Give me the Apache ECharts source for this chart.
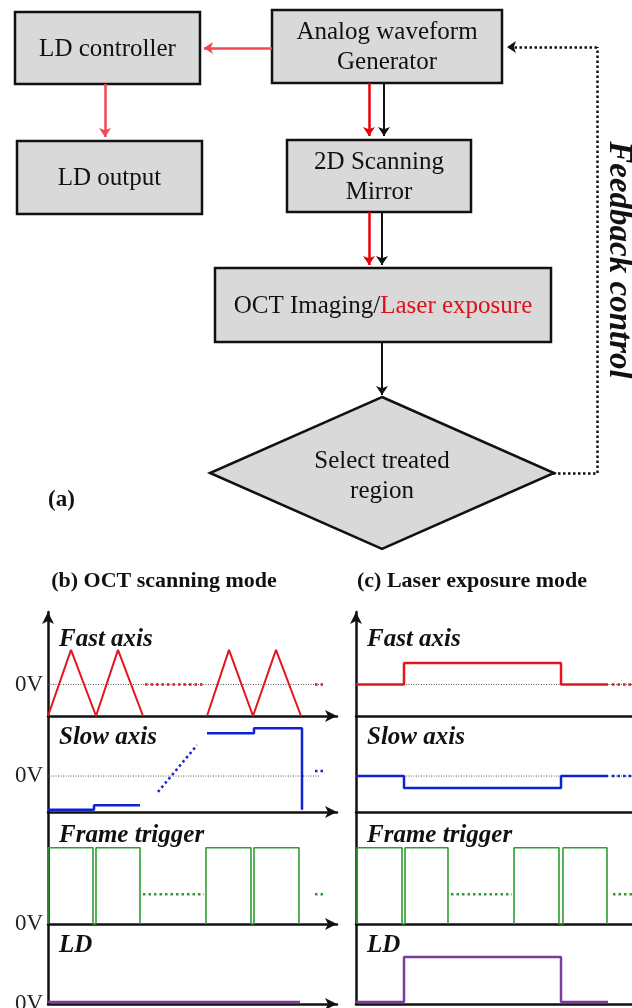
<!DOCTYPE html>
<html>
<head>
<meta charset="utf-8">
<script src="https://cdn.jsdelivr.net/npm/echarts@6/dist/echarts.min.js"></script>
<style>
  html, body { margin: 0; padding: 0; background: #fff; }
  #chart { width: 632px; height: 1008px; }
</style>
</head>
<body>
<div id="chart"></div>
<script>
// ---------- (a) flowchart ----------
const boxLabels = ['LD controller', 'Analog waveform\nGenerator', 'LD output', '2D Scanning\nMirror', 'OCT Imaging/Laser exposure']
// box corners in the flow canvas units [x1, y1, x2, y2]
const boxCorners = [[15, 12, 200, 84], [272, 10, 502, 83], [17, 141, 202, 214], [287, 140, 471, 212], [215, 268, 551, 342]]
const decisionLabel = 'Select treated\nregion'
const decisionShape = [[382, 473, 172, 76]]
// arrows: [from, to, kind]
const arrowLinks = [
  [[272, 48], [204, 48], 'ld'],
  [[105, 84], [105, 137], 'ld'],
  [[369, 83], [369, 136], 'red'],
  [[384, 83], [384, 136], 'black'],
  [[369, 212], [369, 265], 'red'],
  [[382, 212], [382, 265], 'black'],
  [[382, 342], [382, 395], 'black'],
  [[597, 47], [507, 47], 'feedback']
]
const feedbackPath = [[[553, 473], [597, 473]], [[597, 473], [597, 47]]]

// ---------- (b)/(c) waveforms ----------
const rowNames = ['Fast axis', 'Slow axis', 'Frame trigger', 'LD']
const panelTitles = ['(b) OCT scanning mode', '(c) Laser exposure mode']

// (b) OCT scanning mode
const fastB1 = [[0, -1], [23, 1.1], [48, -1], [70, 1.1], [95, -1]]
const fastBGap = [[97, 0], [156, 0]]
const fastB2 = [[159, -1], [181, 1.1], [205, -1], [228, 1.1], [253, -1]]
const fastBMore = [[267, 0], [278, 0]]
const slowB1 = [[0, -0.94], [46, -0.94], [46, -0.81], [92, -0.81]]
const slowBGap = [[110, -0.44], [149, 0.86]]
const slowB2 = [[159, 1.19], [206, 1.19], [206, 1.33], [254, 1.33], [254, -0.94]]
const slowBMore = [[267, 0.14], [278, 0.14]]
const frameB1 = [[0, 0], [0, 1], [45, 1], [45, 0], [48, 0], [48, 1], [92, 1], [92, 0]]
const frameBGap = [[95, 0.39], [156, 0.39]]
const frameB2 = [[158, 0], [158, 1], [203, 1], [203, 0], [206, 0], [206, 1], [251, 1], [251, 0]]
const frameBMore = [[267, 0.39], [278, 0.39]]
const ldB = [[0, 0.04], [252, 0.04]]
const zeroB = [[0, 0], [272, 0]]

// (c) Laser exposure mode
const fastC = [[0, 0], [48, 0], [48, 0.68], [205, 0.68], [205, 0], [252, 0]]
const fastCMore = [[256, 0], [276, 0]]
const slowC = [[0, 0], [48, 0], [48, -0.33], [205, -0.33], [205, 0], [252, 0]]
const slowCMore = [[256, 0], [276, 0]]
const frameC1 = [[1, 0], [1, 1], [46, 1], [46, 0], [49, 0], [49, 1], [92, 1], [92, 0]]
const frameCGap = [[95, 0.39], [156, 0.39]]
const frameC2 = [[158, 0], [158, 1], [203, 1], [203, 0], [207, 0], [207, 1], [251, 1], [251, 0]]
const frameCMore = [[257, 0.39], [276, 0.39]]
const ldC = [[0, 0.04], [48, 0.04], [48, 1], [205, 1], [205, 0.04], [252, 0.04]]
const zeroC = [[0, 0], [276, 0]]

const yRanges = [[-1, 2.3], [-1, 1.67], [0, 1.47], [0, 1.7]]
const timeMax = [289, 276]

// 布局
const rowTop = [612, 716, 812, 924]
const rowBottom = [716, 812, 924, 1004]
const panelLeft = [48, 356]

const serif = '"Liberation Serif", "Times New Roman", serif'
const colors = {
  fast: '#e3161d',
  slow: '#1023d0',
  frame: '#2e9e32',
  ld: '#7a3d9e',
  zero: '#555'
}
const arrowColors = { ld: '#ef4a52', red: '#e6000a', black: '#111', feedback: '#111' }

const chart = echarts.init(document.getElementById('chart'), null, { renderer: 'canvas' })

const grids = [{ left: 0, top: 0, width: 632, height: 560, outerBoundsMode: 'none' }]
const xAxes = [{ gridIndex: 0, type: 'value', min: 0, max: 632, show: false }]
const yAxes = [{ gridIndex: 0, type: 'value', min: 0, max: 560, inverse: true, show: false }]

// 波形网格
for (let p = 0; p < 2; p++) {
  for (let r = 0; r < 4; r++) {
    grids.push({
      left: panelLeft[p], top: rowTop[r], width: timeMax[p], height: rowBottom[r] - rowTop[r],
      outerBoundsMode: 'none', containLabel: false
    })
    const gi = grids.length - 1
    xAxes.push({
      gridIndex: gi, type: 'value', min: 0, max: timeMax[p],
      axisLine: {
        show: true, onZero: false,
        lineStyle: { color: '#111', width: 2.5 },
        symbol: p === 0 ? ['none', 'arrow'] : 'none',
        symbolSize: [9, 12]
      },
      axisTick: { show: false }, axisLabel: { show: false }, splitLine: { show: false }
    })
    yAxes.push({
      gridIndex: gi, type: 'value', min: yRanges[r][0], max: yRanges[r][1], interval: 1,
      axisLine: {
        show: true, onZero: false,
        lineStyle: { color: '#111', width: 2.5 },
        symbol: r === 0 ? ['none', 'arrow'] : 'none',
        symbolSize: [9, 12]
      },
      axisTick: { show: false }, splitLine: { show: false },
      axisLabel: {
        show: p === 0,
        margin: 5,
        formatter: v => (v === 0 ? '0V' : ''),
        color: '#222', fontSize: 23, fontFamily: serif
      }
    })
  }
}

const axisIdx = (p, r) => 1 + p * 4 + r

const wave = (data, p, r, color, width, dotted) => ({
  type: 'line',
  xAxisIndex: axisIdx(p, r),
  yAxisIndex: axisIdx(p, r),
  data: data,
  symbol: 'none',
  silent: true,
  animation: false,
  lineStyle: { color: color, width: width, type: dotted ? [2.5, 3] : 'solid', cap: 'butt' },
  z: 3
})

const zeroLine = (data, p, r) => ({
  type: 'line',
  xAxisIndex: axisIdx(p, r),
  yAxisIndex: axisIdx(p, r),
  data: data,
  symbol: 'none',
  silent: true,
  animation: false,
  lineStyle: { color: colors.zero, width: 1, type: [1, 1.5] },
  z: 2
})

const waveSeries = [
  zeroLine(zeroB, 0, 0), zeroLine(zeroB, 0, 1),
  zeroLine(zeroC, 1, 0), zeroLine(zeroC, 1, 1),
  wave(fastB1, 0, 0, colors.fast, 2),
  wave(fastBGap, 0, 0, colors.fast, 2.5, true),
  wave(fastB2, 0, 0, colors.fast, 2),
  wave(fastBMore, 0, 0, colors.fast, 2.5, true),
  wave(slowB1, 0, 1, colors.slow, 2.5),
  wave(slowBGap, 0, 1, colors.slow, 2.5, true),
  wave(slowB2, 0, 1, colors.slow, 2.5),
  wave(slowBMore, 0, 1, colors.slow, 2.5, true),
  wave(frameB1, 0, 2, colors.frame, 1.6),
  wave(frameBGap, 0, 2, colors.frame, 2.5, true),
  wave(frameB2, 0, 2, colors.frame, 1.6),
  wave(frameBMore, 0, 2, colors.frame, 2.5, true),
  wave(ldB, 0, 3, colors.ld, 2.5),
  wave(fastC, 1, 0, colors.fast, 2.5),
  wave(fastCMore, 1, 0, colors.fast, 2.5, true),
  wave(slowC, 1, 1, colors.slow, 2.5),
  wave(slowCMore, 1, 1, colors.slow, 2.5, true),
  wave(frameC1, 1, 2, colors.frame, 1.6),
  wave(frameCGap, 1, 2, colors.frame, 2.5, true),
  wave(frameC2, 1, 2, colors.frame, 1.6),
  wave(frameCMore, 1, 2, colors.frame, 2.5, true),
  wave(ldC, 1, 3, colors.ld, 2.5)
]

// 流程图
const boxText = idx => {
  if (idx === 4) {
    return { text: '{k|OCT Imaging/}{r|Laser exposure}', rich: { k: { fill: '#111' }, r: { fill: '#e0101a' } } }
  }
  return { text: boxLabels[idx] }
}

const flowSeries = [
  {
    type: 'custom',
    xAxisIndex: 0, yAxisIndex: 0,
    silent: true, animation: false,
    data: boxCorners.map((b, i) => [b[0], b[1], b[2], b[3], i]),
    encode: { x: [0, 2], y: [1, 3] },
    renderItem: (params, api) => {
      const p1 = api.coord([api.value(0), api.value(1)])
      const p2 = api.coord([api.value(2), api.value(3)])
      const t = boxText(api.value(4))
      return {
        type: 'group',
        children: [
          {
            type: 'rect',
            shape: { x: p1[0], y: p1[1], width: p2[0] - p1[0], height: p2[1] - p1[1] },
            style: { fill: '#d9d9d9', stroke: '#111', lineWidth: 2.5 }
          },
          {
            type: 'text',
            x: (p1[0] + p2[0]) / 2,
            y: (p1[1] + p2[1]) / 2 + 1,
            style: Object.assign({
              font: '25px ' + serif,
              fill: '#111',
              align: 'center',
              verticalAlign: 'middle',
              lineHeight: 30
            }, t)
          }
        ]
      }
    }
  },
  {
    type: 'custom',
    xAxisIndex: 0, yAxisIndex: 0,
    silent: true, animation: false,
    data: decisionShape,
    encode: { x: 0, y: 1 },
    renderItem: (params, api) => {
      const cx = api.value(0), cy = api.value(1), hw = api.value(2), hh = api.value(3)
      const pts = [[cx, cy - hh], [cx + hw, cy], [cx, cy + hh], [cx - hw, cy]].map(q => api.coord(q))
      const c = api.coord([cx, cy])
      return {
        type: 'group',
        children: [
          { type: 'polygon', shape: { points: pts }, style: { fill: '#d9d9d9', stroke: '#111', lineWidth: 2.5 } },
          {
            type: 'text', x: c[0], y: c[1] + 3,
            style: { text: decisionLabel, font: '25px ' + serif, fill: '#111', align: 'center', verticalAlign: 'middle', lineHeight: 30 }
          }
        ]
      }
    }
  },
  {
    type: 'lines',
    coordinateSystem: 'cartesian2d',
    xAxisIndex: 0, yAxisIndex: 0,
    silent: true, animation: false,
    symbol: ['none', 'arrow'],
    symbolSize: 9,
    data: arrowLinks.map(a => ({
      coords: [a[0], a[1]],
      lineStyle: {
        color: arrowColors[a[2]],
        width: a[2] === 'black' ? 2 : 2.5,
        type: a[2] === 'feedback' ? [2.5, 2.5] : 'solid',
        opacity: 1
      }
    })),
    z: 4
  },
  {
    type: 'lines',
    coordinateSystem: 'cartesian2d',
    xAxisIndex: 0, yAxisIndex: 0,
    silent: true, animation: false,
    symbol: 'none',
    data: feedbackPath.map(c => ({ coords: c })),
    lineStyle: { color: '#111', width: 2.5, type: [2.5, 2.5], opacity: 1 },
    z: 4
  }
]

const textEl = (x, y, text, font, extra) => ({
  type: 'text', x: x, y: y, silent: true,
  style: Object.assign({ text: text, font: font, fill: '#111', verticalAlign: 'middle' }, extra || {})
})

const labelEls = []
for (let p = 0; p < 2; p++) {
  const lx = p === 0 ? 59 : 367
  const ly = [640, 738, 836, 946]
  rowNames.forEach((n, r) => labelEls.push(textEl(lx, ly[r], n, 'italic bold 25px ' + serif)))
}

const option = {
  animation: false,
  grid: grids,
  xAxis: xAxes,
  yAxis: yAxes,
  series: flowSeries.concat(waveSeries),
  graphic: [
    textEl(619, 260, 'Feedback control', 'italic bold 33px ' + serif, { align: 'center' }),
    textEl(48, 500, '(a)', 'bold 23px ' + serif),
    textEl(164, 581, panelTitles[0], 'bold 22px ' + serif, { align: 'center' }),
    textEl(472, 581, panelTitles[1], 'bold 22px ' + serif, { align: 'center' })
  ].concat(labelEls)
}
option.graphic[0].rotation = -Math.PI / 2

chart.setOption(option)
</script>
</body>
</html>
